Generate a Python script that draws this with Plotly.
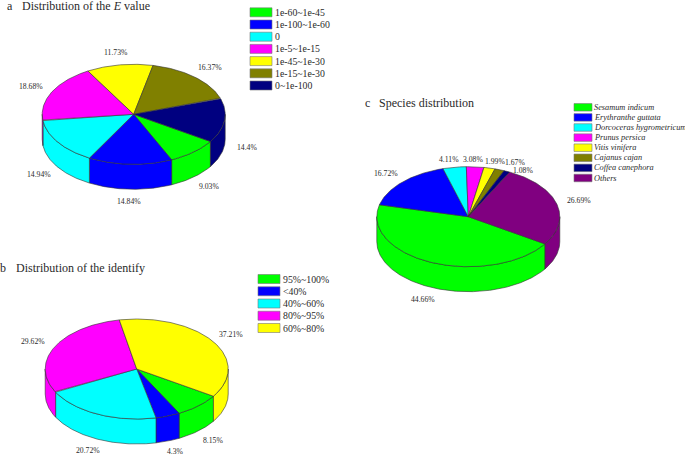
import numpy as np
import plotly.graph_objects as go

# ---------- data ----------
a_categories = ["1e-60~1e-45", "1e-100~1e-60", "0", "1e-5~1e-15", "1e-45~1e-30", "1e-15~1e-30", "0~1e-100"]
a_values = [9.03, 14.84, 14.94, 18.68, 11.73, 16.37, 14.4]
a_colors = ["#00ff00", "#0000ff", "#00ffff", "#ff00ff", "#ffff00", "#808000", "#000080"]

b_categories = ["95%~100%", "<40%", "40%~60%", "80%~95%", "60%~80%"]
b_values = [8.15, 4.3, 20.72, 29.62, 37.21]
b_colors = ["#00ff00", "#0000ff", "#00ffff", "#ff00ff", "#ffff00"]

c_categories = ["Sesamum indicum", "Erythranthe guttata", "Dorcoceras hygrometricum", "Prunus persica",
                "Vitis vinifera", "Cajanus cajan", "Coffea canephora", "Others"]
c_values = [44.66, 16.72, 4.11, 3.08, 1.99, 1.67, 1.08, 26.69]
c_colors = ["#00ff00", "#0000ff", "#00ffff", "#ff00ff", "#ffff00", "#808000", "#000080", "#800080"]

# ---------- layout of the three panels (pixel space) ----------
FONT = "Liberation Serif"
TXT = "#2a2a2a"
EDGE = "#333333"
RX, RY, DEPTH = 91.5, 50.0, 25.0
START = 33.0

PANELS = [
    dict(key="a", cats=a_categories, vals=a_values, cols=a_colors, cx=133.7, cy=114.3,
         lab=[(208.7, 186.7), (129.3, 201.7), (39, 174.7), (31.3, 86.3), (116.3, 52.7), (210, 67.7), (247.3, 147)],
         leg=dict(x0=250, x1=272, y0=12.3, dy=12.2, h=9, tx=275, fs=9.8, italic=False)),
    dict(key="b", cats=b_categories, vals=b_values, cols=b_colors, cx=136.7, cy=369.0,
         lab=[(213.3, 440), (175, 451.5), (87.7, 450), (33.3, 341.7), (231, 334)],
         leg=dict(x0=258, x1=280, y0=279, dy=12.25, h=9, tx=283, fs=9.8, italic=False)),
    dict(key="c", cats=c_categories, vals=c_values, cols=c_colors, cx=468.3, cy=216.7,
         lab=[(422.7, 299), (386, 173.3), (449, 159.3), (473.3, 159.3), (494.7, 161.7), (515.3, 162.2), (522.7, 170), (578.7, 200.3)],
         leg=dict(x0=574, x1=592, y0=107.3, dy=10.1, h=7.5, tx=594.3, fs=8.3, italic=True)),
]
TITLES = [
    ("a", 7, 5.5, "Distribution of the <i>E</i> value", 21.7, 5.5),
    ("b", 0, 267.5, "Distribution of the identify", 16, 267.5),
    ("c", 365, 102.7, "Species distribution", 379, 102.7),
]
TITLE_FS = 12


def arc(cx, cy, t0, t1, dy=0.0):
    n = max(3, int(abs(t1 - t0) * 1.5))
    t = np.radians(np.linspace(t0, t1, n))
    return cx + RX * np.cos(t), cy + dy + RY * np.sin(t)


fig = go.Figure()
shapes, annotations = [], []

for p in PANELS:
    edges = START + np.concatenate([[0], np.cumsum(p["vals"])]) * 3.6 / (sum(p["vals"]) / 100)
    spans = list(zip(edges[:-1], edges[1:]))
    # side walls: only the part of each slice on the front half of the ellipse
    for (t0, t1), col, name in zip(spans, p["cols"], p["cats"]):
        for lo, hi in ((t0, t1), (t0 - 360, t1 - 360)):
            s, e = max(lo, 0.0), min(hi, 180.0)
            if e <= s:
                continue
            xt, yt = arc(p["cx"], p["cy"], s, e)
            xb, yb = arc(p["cx"], p["cy"], e, s, DEPTH)
            fig.add_trace(go.Scatter(
                x=np.r_[xt, xb, xt[0]], y=np.r_[yt, yb, yt[0]], mode="lines", fill="toself",
                fillcolor=col, line=dict(color=EDGE, width=0.6), name=name, showlegend=False,
                hoverinfo="name"))
    # top faces
    for (t0, t1), col, name in zip(spans, p["cols"], p["cats"]):
        xa, ya = arc(p["cx"], p["cy"], t0, t1)
        fig.add_trace(go.Scatter(
            x=np.r_[p["cx"], xa, p["cx"]], y=np.r_[p["cy"], ya, p["cy"]], mode="lines", fill="toself",
            fillcolor=col, line=dict(color=EDGE, width=0.6), name=name, showlegend=False,
            hoverinfo="name"))
    # value labels
    for v, (lx, ly) in zip(p["vals"], p["lab"]):
        annotations.append(dict(x=lx, y=ly, xref="x", yref="y", text=f"{v}%", showarrow=False, borderpad=0,
                                font=dict(family=FONT, size=7.7, color=TXT), xanchor="center", yanchor="middle"))
    # legend
    lg = p["leg"]
    for i, (name, col) in enumerate(zip(p["cats"], p["cols"])):
        yc = lg["y0"] + i * lg["dy"]
        shapes.append(dict(type="rect", xref="x", yref="y", x0=lg["x0"], x1=lg["x1"],
                           y0=yc - lg["h"] / 2, y1=yc + lg["h"] / 2, fillcolor=col,
                           line=dict(color="#777777", width=0.6)))
        label = name.replace("<", "&lt;")
        annotations.append(dict(x=lg["tx"], y=yc, xref="x", yref="y",
                                text=f"<i>{label}</i>" if lg["italic"] else label, showarrow=False,
                                font=dict(family=FONT, size=lg["fs"], color=TXT), xanchor="left", yanchor="middle",
                                xshift=-1, borderpad=0))

for letter, lx, ly, title, tx, ty in TITLES:
    annotations.append(dict(x=lx, y=ly, xref="x", yref="y", text=letter, showarrow=False, borderpad=0, xshift=-1,
                            font=dict(family=FONT, size=TITLE_FS, color=TXT), xanchor="left", yanchor="middle"))
    annotations.append(dict(x=tx, y=ty, xref="x", yref="y", text=title, showarrow=False, borderpad=0, xshift=-1,
                            font=dict(family=FONT, size=TITLE_FS, color=TXT), xanchor="left", yanchor="middle"))

fig.update_layout(
    width=685, height=456, margin=dict(l=0, r=0, t=0, b=0), paper_bgcolor="white", plot_bgcolor="white",
    showlegend=False, shapes=shapes, annotations=annotations,
    xaxis=dict(range=[0, 685], visible=False, fixedrange=True),
    yaxis=dict(range=[456, 0], visible=False, fixedrange=True),
)
fig.write_html("out.html", config=dict(displayModeBar=False),
               post_script="document.body.style.margin='0';document.body.style.overflow='hidden';")
